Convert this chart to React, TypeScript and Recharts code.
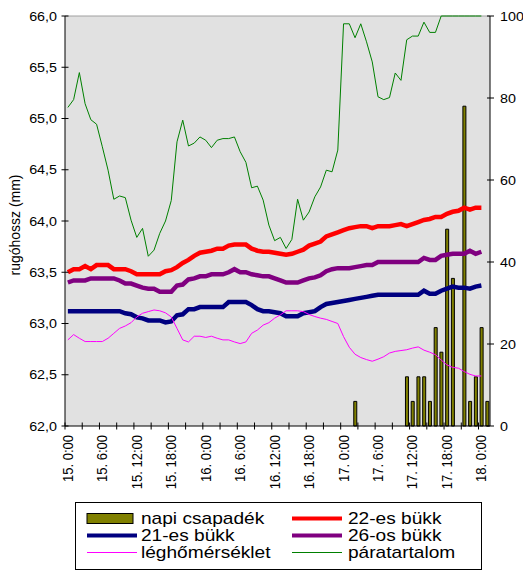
import { ComposedChart, Bar, Line, XAxis, YAxis, CartesianGrid, ReferenceLine } from 'recharts';

const FONT = '"Liberation Sans", Arial, sans-serif';
const SX = 1.1; // text is drawn slightly wide

// hourly samples, 15. 0:00 .. 18. 1:00
const startDay = 15;
const hoursCount = 74;
const categories: string[] = [];
for (let i = 0; i < hoursCount; i++) {
  categories.push(`${startDay + Math.floor(i / 24)}. ${i % 24}:00`);
}

// napi csapadék (right axis)
const csapadek = [
  0, 0, 0, 0, 0, 0, 0, 0, 0, 0,
  0, 0, 0, 0, 0, 0, 0, 0, 0, 0,
  0, 0, 0, 0, 0, 0, 0, 0, 0, 0,
  0, 0, 0, 0, 0, 0, 0, 0, 0, 0,
  0, 0, 0, 0, 0, 0, 0, 0, 0, 0,
  6, 0, 0, 0, 0, 0, 0, 0, 0, 12,
  6, 12, 12, 6, 24, 18, 48, 36, 0, 78,
  6, 12, 24, 6,
];

// rugóhossz (mm), left axis
const bukk22 = [
  63.50, 63.53, 63.53, 63.56, 63.53, 63.57, 63.57, 63.57, 63.53, 63.53,
  63.53, 63.51, 63.48, 63.48, 63.48, 63.48, 63.48, 63.51, 63.52, 63.55,
  63.59, 63.62, 63.66, 63.69, 63.70, 63.71, 63.73, 63.73, 63.76, 63.77,
  63.77, 63.77, 63.73, 63.71, 63.70, 63.70, 63.69, 63.68, 63.67, 63.68,
  63.70, 63.72, 63.76, 63.78, 63.80, 63.85, 63.87, 63.89, 63.91, 63.93,
  63.94, 63.95, 63.95, 63.93, 63.95, 63.95, 63.95, 63.96, 63.97, 63.95,
  63.97, 63.99, 64.01, 64.02, 64.04, 64.04, 64.07, 64.09, 64.10, 64.13,
  64.11, 64.13, 64.13,
];

const bukk21 = [
  63.12, 63.12, 63.12, 63.12, 63.12, 63.12, 63.12, 63.12, 63.12, 63.12,
  63.10, 63.09, 63.06, 63.05, 63.03, 63.03, 63.03, 63.01, 63.02, 63.08,
  63.09, 63.14, 63.14, 63.16, 63.16, 63.16, 63.16, 63.16, 63.21, 63.21,
  63.21, 63.21, 63.18, 63.14, 63.12, 63.12, 63.11, 63.10, 63.07, 63.07,
  63.07, 63.10, 63.11, 63.12, 63.16, 63.19, 63.20, 63.21, 63.22, 63.23,
  63.24, 63.25, 63.26, 63.27, 63.28, 63.28, 63.28, 63.28, 63.28, 63.28,
  63.28, 63.28, 63.32, 63.29, 63.29, 63.32, 63.34, 63.36, 63.35, 63.35,
  63.34, 63.36, 63.37,
];

const bukk26 = [
  63.40, 63.42, 63.42, 63.42, 63.44, 63.44, 63.44, 63.44, 63.44, 63.42,
  63.39, 63.39, 63.37, 63.35, 63.34, 63.34, 63.31, 63.31, 63.31, 63.37,
  63.38, 63.43, 63.44, 63.46, 63.46, 63.48, 63.48, 63.48, 63.50, 63.53,
  63.50, 63.50, 63.48, 63.47, 63.46, 63.46, 63.44, 63.42, 63.40, 63.40,
  63.40, 63.42, 63.44, 63.45, 63.47, 63.51, 63.53, 63.54, 63.54, 63.54,
  63.55, 63.56, 63.57, 63.57, 63.60, 63.60, 63.60, 63.60, 63.60, 63.60,
  63.60, 63.60, 63.64, 63.62, 63.62, 63.66, 63.67, 63.68, 63.68, 63.68,
  63.71, 63.68, 63.70,
];

// right axis
const leghomerseklet = [
  21.0, 22.3, 21.4, 20.6, 20.6, 20.6, 20.6, 21.4, 22.6, 23.8,
  24.4, 25.2, 26.6, 27.5, 27.9, 28.3, 28.1, 27.6, 26.6, 23.8,
  21.0, 20.5, 21.9, 21.9, 21.6, 21.9, 21.4, 21.0, 21.0, 20.5,
  20.1, 20.5, 22.6, 23.4, 24.6, 25.2, 26.3, 27.1, 28.1, 28.1,
  28.1, 27.9, 27.2, 26.7, 26.3, 26.0, 25.5, 25.0, 21.8, 19.2,
  17.5, 16.7, 16.2, 15.8, 16.3, 16.9, 17.8, 18.2, 18.4, 18.6,
  19.0, 19.3, 18.5, 18.0, 17.4, 16.1, 14.9, 14.3, 14.1, 13.3,
  12.6, 12.2, 12.2,
];

const paratartalom = [
  77.7, 79.6, 86.2, 78.6, 74.7, 73.6, 68.1, 62.4, 55.3, 56.1,
  55.7, 50.2, 46.0, 48.2, 41.4, 42.9, 47.0, 50.0, 55.0, 69.3,
  74.6, 68.3, 69.0, 70.5, 69.7, 67.9, 69.7, 70.1, 70.1, 70.5,
  66.9, 64.3, 58.1, 58.5, 55.1, 49.0, 45.2, 46.0, 43.3, 45.5,
  55.3, 50.2, 52.2, 55.9, 58.3, 62.4, 62.0, 67.3, 98.1, 98.1,
  94.7, 98.1, 93.7, 88.8, 80.3, 79.6, 80.1, 86.1, 84.3, 94.2,
  95.1, 95.1, 98.5, 96.0, 96.0, 100, 100, 100, 100, 100,
  100, 100, 100,
];

const leftTicks = [62, 62.5, 63, 63.5, 64, 64.5, 65, 65.5, 66];
const rightTicks = [0, 20, 40, 60, 80, 100];

const data = categories.map((t, i) => ({
  t,
  csap: csapadek[i],
  b22: bukk22[i] ?? null,
  b21: bukk21[i] ?? null,
  b26: bukk26[i] ?? null,
  hom: leghomerseklet[i] ?? null,
  para: paratartalom[i] ?? null,
}));

const legendItems = [
  { name: 'napi csapadék', kind: 'bar', color: '#808000', w: 0 },
  { name: '22-es bükk', kind: 'line', color: '#ff0000', w: 4 },
  { name: '21-es bükk', kind: 'line', color: '#000080', w: 4 },
  { name: '26-os bükk', kind: 'line', color: '#800080', w: 4 },
  { name: 'léghőmérséklet', kind: 'line', color: '#ff00ff', w: 1 },
  { name: 'páratartalom', kind: 'line', color: '#008000', w: 1 },
];

const W = 523;
const H = 500;
const PLOT_LEFT = 65;
const PLOT_RIGHT = 490;
const PLOT_TOP = 16;
const PLOT_BOTTOM = 426;
const BAND = (PLOT_RIGHT - PLOT_LEFT) / categories.length;

const fmtLeft = (v: number) => v.toFixed(1).replace('.', ',');

const XTick = (props: any) => {
  const { x, y, index, payload } = props;
  const edge = x - BAND / 2;
  return (
    <g>
      {index % 3 === 0 && <line x1={edge} x2={edge} y1={y - 3.5} y2={y + 3.5} stroke="#000" />}
      {index % 6 === 0 && (
        <text
          transform={`translate(${x + 5},${y + 9}) scale(${SX},1) rotate(-90)`}
          textAnchor="end"
          fontSize={13}
          fontFamily={FONT}
          fill="#000"
        >
          {payload.value}
        </text>
      )}
    </g>
  );
};

const LeftTick = (props: any) => {
  const { x, y, payload } = props;
  return (
    <g>
      <line x1={x - 3.5} x2={x + 3.5} y1={y} y2={y} stroke="#000" />
      <text
        transform={`translate(${x - 8},${y + 4.5}) scale(${SX},1)`}
        textAnchor="end"
        fontSize={13}
        fontFamily={FONT}
        fill="#000"
      >
        {fmtLeft(payload.value)}
      </text>
    </g>
  );
};

const RightTick = (props: any) => {
  const { x, y, payload } = props;
  return (
    <g>
      <line x1={x - 3} x2={x + 4} y1={y} y2={y} stroke="#000" />
      <text
        transform={`translate(${x + 10},${y + 4.5}) scale(${SX},1)`}
        textAnchor="start"
        fontSize={13}
        fontFamily={FONT}
        fill="#000"
      >
        {payload.value}
      </text>
    </g>
  );
};

const AxisTitle = () => (
  <text
    transform={`translate(19.5,${(PLOT_TOP + PLOT_BOTTOM) / 2 + 4}) scale(${SX},1) rotate(-90)`}
    textAnchor="middle"
    fontSize={14}
    fontFamily={FONT}
    fill="#000"
  >
    rugóhossz (mm)
  </text>
);

// two-column legend in a framed box under the plot
const ChartLegend = () => (
  <svg
    width={408}
    height={69}
    style={{ position: 'absolute', left: 75, top: 502 }}
  >
    <rect x={0.5} y={0.5} width={406} height={67} fill="#fff" stroke="#000" />
    {legendItems.map((item, i) => {
      const col = i % 2;
      const row = Math.floor(i / 2);
      const sx = col === 0 ? 12 : 217;
      const tx = col === 0 ? 66 : 273;
      const base = 21.5 + row * 17;
      const cy = base - 5;
      return (
        <g key={item.name}>
          {item.kind === 'bar' ? (
            <rect x={sx} y={cy - 5} width={46} height={10} fill={item.color} stroke="#000" />
          ) : (
            <line x1={sx} x2={sx + 50} y1={cy} y2={cy} stroke={item.color} strokeWidth={item.w} />
          )}
          <text
            transform={`translate(${tx},${base}) scale(1.18,1)`}
            fontSize={16.2}
            fontFamily={FONT}
            fill="#000"
          >
            {item.name}
          </text>
        </g>
      );
    })}
  </svg>
);

export default function App() {
  return (
    <div style={{ position: 'absolute', left: 0, top: 0, width: 523, height: 571, background: '#fff' }}>
      <ComposedChart
        width={W}
        height={H}
        data={data}
        margin={{ top: PLOT_TOP, right: 0, bottom: 0, left: 0 }}
        barCategoryGap="28%"
      >
        <CartesianGrid yAxisId="left" fill="#e1e1e1" horizontal={false} vertical={false} />
        <XAxis
          dataKey="t"
          interval={0}
          height={H - PLOT_BOTTOM}
          tickSize={0}
          tickMargin={0}
          tickLine={false}
          tick={<XTick />}
          axisLine={{ stroke: '#000' }}
        />
        <YAxis
          yAxisId="left"
          width={PLOT_LEFT}
          domain={[62, 66]}
          ticks={leftTicks}
          tickSize={0}
          tickMargin={0}
          tickLine={false}
          tick={<LeftTick />}
          axisLine={{ stroke: '#000' }}
          label={AxisTitle}
        />
        <YAxis
          yAxisId="right"
          orientation="right"
          width={W - PLOT_RIGHT}
          domain={[0, 100]}
          ticks={rightTicks}
          tickSize={0}
          tickMargin={0}
          tickLine={false}
          tick={<RightTick />}
          axisLine={{ stroke: '#000' }}
        />
        <ReferenceLine yAxisId="left" y={66} stroke="#a0a0a0" />
        <Line yAxisId="left" dataKey="b22" stroke="#ff0000" strokeWidth={4.5} dot={false} activeDot={false} isAnimationActive={false} />
        <Line yAxisId="left" dataKey="b21" stroke="#000080" strokeWidth={4.5} dot={false} activeDot={false} isAnimationActive={false} />
        <Line yAxisId="left" dataKey="b26" stroke="#800080" strokeWidth={4.5} dot={false} activeDot={false} isAnimationActive={false} />
        <Bar yAxisId="right" dataKey="csap" fill="#808000" stroke="#000" strokeWidth={1} isAnimationActive={false} />
        <Line yAxisId="right" dataKey="hom" stroke="#ff00ff" strokeWidth={1} dot={false} activeDot={false} isAnimationActive={false} />
        <Line yAxisId="right" dataKey="para" stroke="#008000" strokeWidth={1} dot={false} activeDot={false} isAnimationActive={false} />
      </ComposedChart>
      <ChartLegend />
    </div>
  );
}
